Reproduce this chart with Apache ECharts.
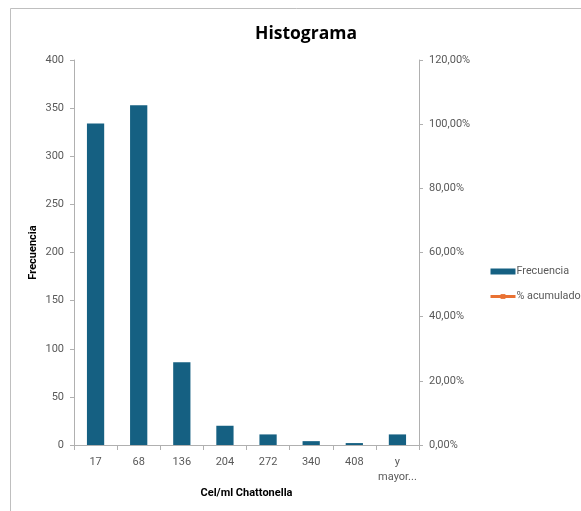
<!DOCTYPE html>
<html>
<head>
<meta charset="utf-8">
<script src="https://cdn.jsdelivr.net/npm/echarts@6/dist/echarts.min.js"></script>
<style>
  html, body { margin: 0; padding: 0; background: #fff; }
  #chart { width: 581px; height: 511px; }
</style>
</head>
<body>
<div id="chart"></div>
<script>
// Histogram bins (upper limit of each class) and their counts
const categories = ['17', '68', '136', '204', '272', '340', '408', 'y\nmayor...'];
const frecuencia = [334, 353, 86, 20, 11, 4, 2, 11];
// Cumulative percentage series: no values plotted
const pctAcumulado = [];
const leftTicks = { min: 0, max: 400, interval: 50 };
const rightTicks = { min: 0, max: 1.2, interval: 0.2 };

const FONT = 'Roboto';
const TEXT = '#595959';
const AXIS = '#B0B0B0';

const chart = echarts.init(document.getElementById('chart'), null, { renderer: 'canvas' });

chart.setOption({
  animation: false,
  backgroundColor: '#ffffff',
  textStyle: { fontFamily: FONT },
  graphic: [{
    type: 'rect',
    shape: { x: 10.5, y: 8.5, width: 700, height: 700 },
    style: { fill: 'none', stroke: '#BFBFBF', lineWidth: 1 },
    silent: true
  }],
  title: {
    text: 'Histograma',
    left: 301,
    textAlign: 'center',
    top: 20,
    textStyle: { fontFamily: 'Open Sans', fontSize: 17.5, fontWeight: 'bold', color: '#000' }
  },
  legend: {
    orient: 'vertical',
    left: 484,
    top: 261,
    itemWidth: 25,
    itemHeight: 6,
    itemGap: 14,
    textStyle: { fontFamily: FONT, fontSize: 10.8, color: TEXT, padding: [0, 0, 0, -4] },
    data: [
      { name: 'Frecuencia', icon: 'rect' },
      { name: '% acumulado', lineStyle: { width: 3 } }
    ]
  },
  grid: { left: 74, right: 162, top: 60, bottom: 66, containLabel: false },
  xAxis: {
    type: 'category',
    data: categories,
    name: 'Cel/ml Chattonella',
    nameLocation: 'middle',
    nameGap: 43,
    nameMoveOverlap: false,
    nameTextStyle: { fontFamily: FONT, fontSize: 11, fontWeight: 'bold', color: '#000' },
    axisLine: { lineStyle: { color: AXIS } },
    axisTick: { show: true, length: 5, lineStyle: { color: AXIS } },
    axisLabel: { color: TEXT, fontSize: 11, margin: 10, lineHeight: 15, interval: 0 }
  },
  yAxis: [
    {
      type: 'value',
      min: leftTicks.min, max: leftTicks.max, interval: leftTicks.interval,
      name: 'Frecuencia',
      nameLocation: 'middle',
      nameGap: 41,
      nameRotate: 90,
      nameMoveOverlap: false,
      nameTextStyle: { fontFamily: FONT, fontSize: 11, fontWeight: 'bold', color: '#000', verticalAlign: 'middle' },
      axisLine: { show: true, lineStyle: { color: AXIS } },
      axisTick: { show: true, length: 4, lineStyle: { color: AXIS } },
      axisLabel: { color: TEXT, fontSize: 11, margin: 10 },
      splitLine: { show: false }
    },
    {
      type: 'value',
      position: 'right',
      min: rightTicks.min, max: rightTicks.max, interval: rightTicks.interval,
      axisLine: { show: true, lineStyle: { color: AXIS } },
      axisTick: { show: true, length: 4, lineStyle: { color: AXIS } },
      axisLabel: {
        color: TEXT, fontSize: 11, margin: 10,
        formatter: v => (v * 100).toFixed(2).replace('.', ',') + '%'
      },
      splitLine: { show: false }
    }
  ],
  series: [
    {
      name: 'Frecuencia',
      type: 'bar',
      data: frecuencia,
      barCategoryGap: '60%',
      itemStyle: { color: '#156082' }
    },
    {
      name: '% acumulado',
      type: 'line',
      yAxisIndex: 1,
      data: pctAcumulado,
      symbol: 'rect',
      symbolSize: 7,
      itemStyle: { color: '#E97132' },
      lineStyle: { color: '#E97132', width: 3 }
    }
  ]
});
</script>
</body>
</html>
